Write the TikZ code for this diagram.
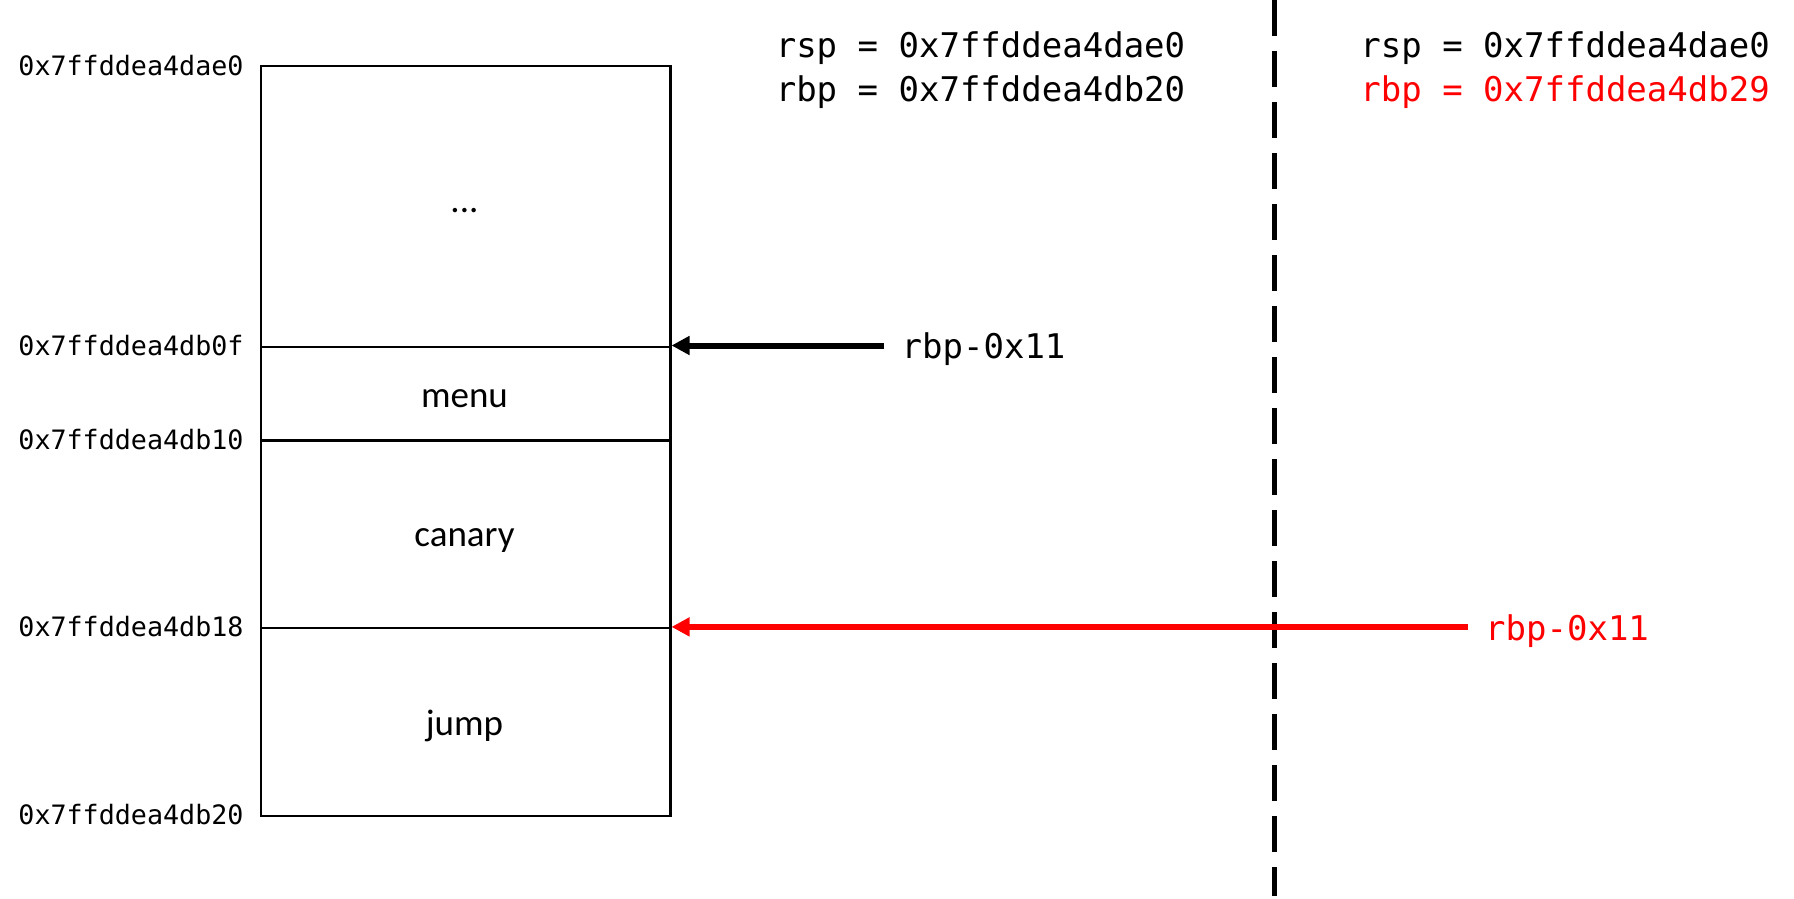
\documentclass[tikz,border=0pt]{standalone}
\usepackage{fontspec}
\setmainfont{Carlito}
\newfontfamily\monof{DejaVu Sans Mono}
\usetikzlibrary{arrows.meta}
\definecolor{myred}{RGB}{255,0,0}
\begin{document}
\begin{tikzpicture}[x=1pt,y=-1pt,
  cell/.style={draw, line width=2.3pt, minimum width=409.5pt, inner sep=0pt, anchor=north west},
  addr/.style={anchor=base east, inner sep=0pt, font=\monof\fontsize{26.7}{30}\selectfont},
  reg/.style={anchor=base west, inner sep=0pt, font=\monof\fontsize{34}{40}\selectfont},
  lbl/.style={anchor=base, inner sep=0pt, font=\fontsize{37}{44}\selectfont},
  ptr/.style={line width=6pt, -{Triangle[length=18pt,width=18pt]}},
  sep/.style={line width=5.5pt, dash pattern=on 36pt off 15pt}
]
\useasboundingbox (0,0) rectangle (1794,899);

% stack cells
\node[cell, minimum height=280.3pt] (c1) at (259.7,65.2) {};
\node[cell, minimum height=93.8pt]  (c2) at (259.7,345.5) {};
\node[cell, minimum height=187.6pt] (c3) at (259.7,439.3) {};
\node[cell, minimum height=187.6pt] (c4) at (259.7,626.9) {};

\node[lbl] (dots) at (464.5,212) {...};
\node[lbl] (menu) at (464.5,407.5) {menu};
\node[lbl] (canary) at (464.5,546.5) {canary};
\node[lbl] (jump) at (464.5,735.5) {jump};

% addresses
\node[addr] (a1) at (243.7,75.2) {0x7ffddea4dae0};
\node[addr] (a2) at (243.7,355.5) {0x7ffddea4db0f};
\node[addr] (a3) at (243.7,449.3) {0x7ffddea4db10};
\node[addr] (a4) at (243.7,636.9) {0x7ffddea4db18};
\node[addr] (a5) at (243.7,824.5) {0x7ffddea4db20};

% registers
\node[reg] (r1) at (775.6,58) {rsp = 0x7ffddea4dae0};
\node[reg] (r2) at (775.6,101.6) {rbp = 0x7ffddea4db20};
\node[reg] (r3) at (1360.2,58) {rsp = 0x7ffddea4dae0};
\node[reg, text=myred] (r4) at (1360.2,101.6) {rbp = 0x7ffddea4db29};

% separator
\coordinate (st) at (1274.4,0);
\coordinate (sb) at (1274.4,895.8);
\draw[sep] (st) -- (sb);

% pointers
\node[reg] (p1) at (901.5,358) {rbp-0x11};
\coordinate (p1s) at (884.3,345.5);
\coordinate (p1e) at (c2.north east);
\draw[ptr] (p1s) -- (p1e);

\node[reg, text=myred] (p2) at (1485,640) {rbp-0x11};
\coordinate (p2s) at (1467.8,626.9);
\coordinate (p2e) at (c4.north east);
\draw[ptr, myred] (p2s) -- (p2e);
\end{tikzpicture}
\end{document}
